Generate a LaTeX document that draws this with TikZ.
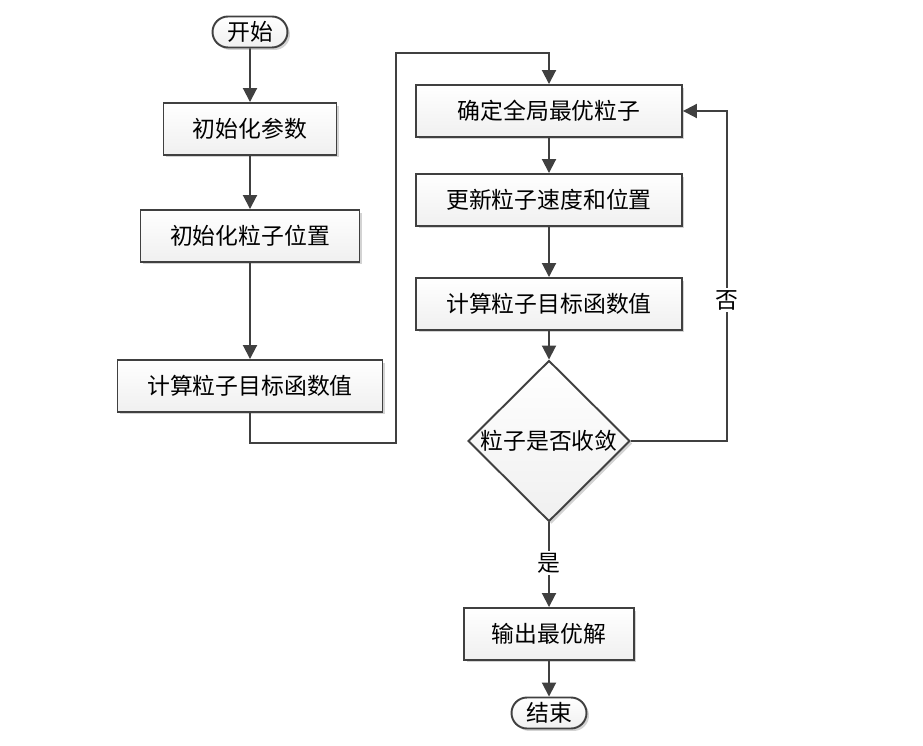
\documentclass[tikz,border=0pt]{standalone}
\usepackage{fontspec}
\newfontfamily\cjk{Noto Sans CJK SC}
\usetikzlibrary{positioning}
\usetikzlibrary{calc}
\usetikzlibrary{arrows.meta,shapes,shadows}
\definecolor{linia}{HTML}{404040}

\begin{document}
\begin{tikzpicture}[x=0.02cm,y=-0.02cm,
	font=\cjk\fontsize{13}{15}\selectfont,
	cien/.style={drop shadow={shadow xshift=0.05cm,shadow yshift=-0.05cm,opacity=0.35,fill=gray}},
	blok/.style={draw=linia,line width=1.1pt,top color=white,bottom color=gray!12,cien,
		minimum height=1.04cm,inner sep=0pt},
	term/.style={rounded rectangle,draw=linia,line width=1.1pt,top color=white,bottom color=gray!12,cien,
		minimum width=1.5cm,minimum height=0.62cm,inner sep=0pt},
	romb/.style={diamond,draw=linia,line width=1.1pt,top color=white,bottom color=gray!12,cien,
		minimum width=3.24cm,minimum height=3.22cm,inner sep=0pt},
	strz/.style={draw=linia,line width=1.1pt,-{Triangle[length=0.28cm,width=0.28cm]}},
	opis/.style={fill=white,inner sep=1pt}]
\useasboundingbox (0,0) rectangle (923,746);

%lewa kolumna
\node[term] (start) at (250,32) {开始};
\node[blok,minimum width=3.46cm] (par) at (250,129) {初始化参数};
\node[blok,minimum width=4.38cm] (poz) at (250,236) {初始化粒子位置};
\node[blok,minimum width=5.30cm] (obl1) at (250,386) {计算粒子目标函数值};

%prawa kolumna
\node[blok,minimum width=5.32cm] (glob) at (549,111) {确定全局最优粒子};
\node[blok,minimum width=5.32cm] (akt) at (549,200) {更新粒子速度和位置};
\node[blok,minimum width=5.32cm] (obl2) at (549,304) {计算粒子目标函数值};
\node[romb] (zb) at (549,441) {粒子是否收敛};
\node[blok,minimum width=3.40cm] (wyn) at (549,634) {输出最优解};
\node[term] (stop) at (549,713) {结束};

%punkty zalaman
\coordinate (k1) at (396,443);
\coordinate (k2) at (396,53);
\coordinate (k3) at (727,441);

%strzalki
\draw[strz] (start) -- (par);
\draw[strz] (par) -- (poz);
\draw[strz] (poz) -- (obl1);
\draw[strz] (obl1) |- (k1) -- (k2) -| (glob);
\draw[strz] (glob) -- (akt);
\draw[strz] (akt) -- (obl2);
\draw[strz] (obl2) -- (zb);
\draw[strz] (zb) -- (k3) |- (glob);
\draw[strz] (zb) -- (wyn);
\draw[strz] (wyn) -- (stop);

%etykiety
\node[opis] (nie) at (727,300) {否};
\node[opis] (tak) at (549,563) {是};
\end{tikzpicture}
\end{document}
